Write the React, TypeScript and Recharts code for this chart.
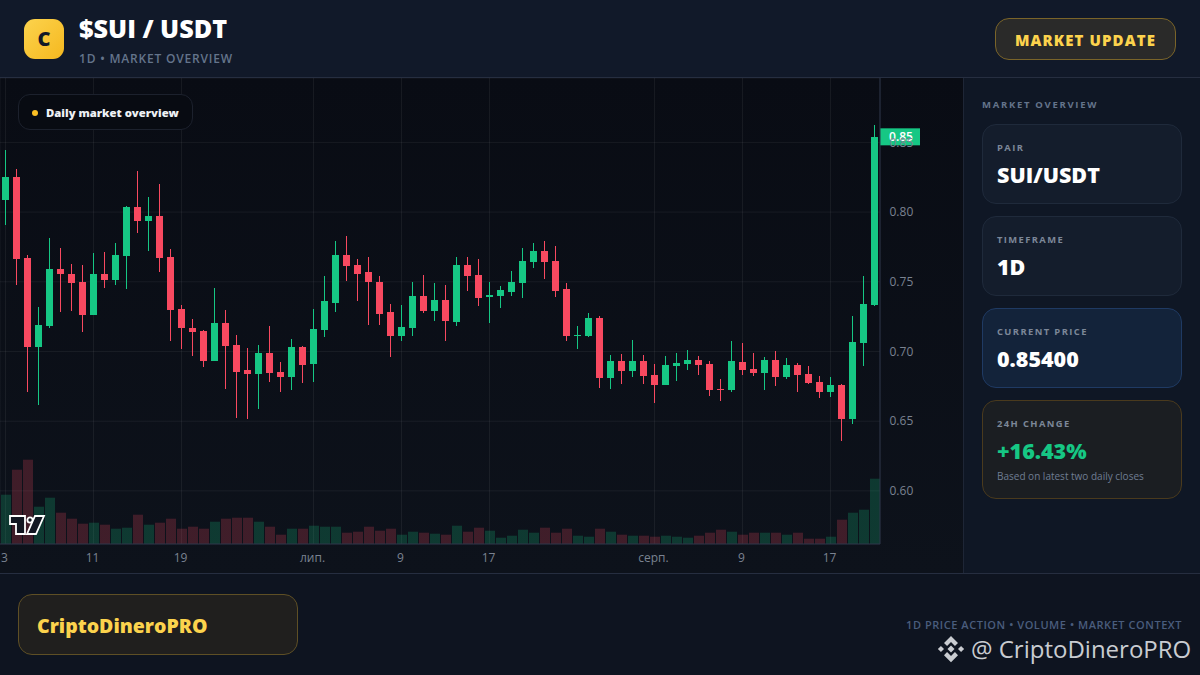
import { Bar, CartesianGrid, Cell, ComposedChart, ReferenceLine, XAxis, YAxis } from 'recharts';

const opens = [
  0.8086, 0.8251, 0.767, 0.7031, 0.7182, 0.7591, 0.7555, 0.7498, 0.7261, 0.7555,
  0.7512, 0.7684, 0.8036, 0.7935, 0.7971, 0.7677, 0.7304, 0.7167, 0.7146, 0.6931,
  0.7203, 0.7045, 0.6866, 0.6837, 0.6988, 0.6852, 0.6816, 0.7031, 0.691, 0.7152,
  0.7352, 0.7695, 0.7624, 0.7567, 0.7502, 0.7281, 0.711, 0.7167, 0.7395, 0.7288,
  0.7367, 0.7217, 0.7624, 0.7552, 0.7388, 0.7395, 0.7431, 0.7495, 0.7645, 0.7724,
  0.7652, 0.7445, 0.711, 0.711, 0.7239, 0.6809, 0.6931, 0.6859, 0.6931, 0.683,
  0.6758, 0.6895, 0.6909, 0.6938, 0.6909, 0.673, 0.6722, 0.6923, 0.6873, 0.6844,
  0.6938, 0.6816, 0.6902, 0.6837, 0.678, 0.6708, 0.6758, 0.6514, 0.706, 0.7333,
];
const highs = [
  0.8445, 0.8306, 0.7691, 0.7318, 0.7813, 0.7742, 0.7627, 0.762, 0.7706, 0.7713,
  0.7778, 0.8043, 0.8294, 0.8108, 0.8201, 0.7734, 0.7333, 0.7232, 0.7153, 0.7455,
  0.7297, 0.7117, 0.7024, 0.7045, 0.7182, 0.6923, 0.7089, 0.7038, 0.7302, 0.7538,
  0.7795, 0.7831, 0.7667, 0.7681, 0.7545, 0.7338, 0.7331, 0.7502, 0.7552, 0.7488,
  0.7474, 0.7681, 0.7681, 0.766, 0.7502, 0.7467, 0.7581, 0.7745, 0.7781, 0.7795,
  0.776, 0.7488, 0.7181, 0.7274, 0.7254, 0.6974, 0.6981, 0.7081, 0.6974, 0.6909,
  0.6967, 0.6988, 0.701, 0.6967, 0.6931, 0.6801, 0.7074, 0.706, 0.6988, 0.6959,
  0.7002, 0.6952, 0.6916, 0.6895, 0.6823, 0.6816, 0.6766, 0.7254, 0.7541, 0.8624,
];
const lows = [
  0.7907, 0.7476, 0.6708, 0.6615, 0.7167, 0.7282, 0.7289, 0.7139, 0.7261, 0.7455,
  0.7476, 0.7447, 0.7849, 0.772, 0.7569, 0.7074, 0.7017, 0.6967, 0.6888, 0.6931,
  0.673, 0.6522, 0.6514, 0.6586, 0.678, 0.6708, 0.6722, 0.6774, 0.6781, 0.7102,
  0.7288, 0.751, 0.7367, 0.7195, 0.7195, 0.696, 0.7074, 0.7117, 0.7281, 0.7217,
  0.7074, 0.7188, 0.7438, 0.7324, 0.721, 0.731, 0.7402, 0.7388, 0.7602, 0.7524,
  0.7395, 0.7074, 0.7017, 0.7102, 0.6737, 0.673, 0.6766, 0.6816, 0.6766, 0.6629,
  0.6758, 0.6787, 0.6866, 0.683, 0.6679, 0.6644, 0.6708, 0.683, 0.6823, 0.6722,
  0.6751, 0.6801, 0.6708, 0.6766, 0.6665, 0.6672, 0.6356, 0.6478, 0.6895, 0.7325,
];
const closes = [
  0.8251, 0.7663, 0.7031, 0.7189, 0.7591, 0.7555, 0.749, 0.7261, 0.7555, 0.7512,
  0.7691, 0.8036, 0.7935, 0.7971, 0.767, 0.7297, 0.7167, 0.7139, 0.6931, 0.7203,
  0.7038, 0.6852, 0.6837, 0.6988, 0.6844, 0.6816, 0.7031, 0.6902, 0.716, 0.736,
  0.7695, 0.7617, 0.756, 0.7495, 0.7274, 0.711, 0.7174, 0.7395, 0.7288, 0.7367,
  0.7217, 0.7624, 0.7545, 0.7388, 0.7402, 0.7438, 0.7502, 0.7652, 0.7724, 0.7645,
  0.7438, 0.711, 0.7117, 0.7238, 0.6809, 0.6931, 0.6859, 0.6931, 0.6823, 0.6758,
  0.6902, 0.6916, 0.6938, 0.6902, 0.6722, 0.6722, 0.6931, 0.6866, 0.6844, 0.6938,
  0.6816, 0.6902, 0.683, 0.6773, 0.6708, 0.6758, 0.6514, 0.7067, 0.734, 0.854,
];
// no scale in the picture, so these are relative bar heights
const volumes = [
  49.3, 74.3, 84.3, 37.3, 46.3, 31.3, 25.3, 20.3, 21.3, 19.3,
  15.3, 16.3, 29.3, 19.3, 21.3, 25.3, 15.3, 17.3, 15.3, 22.3,
  25.3, 26.3, 26.3, 22.3, 17.3, 9.3, 15.3, 15.3, 18.3, 17.3,
  17.3, 11.3, 12.3, 17.3, 13.3, 15.3, 9.3, 12.3, 11.3, 10.3,
  9.3, 18.3, 12.3, 16.3, 13.3, 6.3, 8.3, 14.3, 11.3, 16.3,
  11.3, 15.3, 8.3, 7.3, 15.3, 12.3, 9.3, 8.3, 8.3, 7.3,
  8.3, 7.3, 6.3, 8.3, 11.3, 14.3, 12.3, 9.3, 11.3, 11.3,
  11.3, 9.3, 11.3, 5.3, 5.3, 7.3, 24.3, 31.3, 34.3, 65.3,
];
const tickIndex = [0, 8, 16, 28, 36, 44, 59, 67, 75];
const tickLabels = ['3', '11', '19', 'лип.', '9', '17', 'серп.', '9', '17'];
const priceTicks = [0.6, 0.65, 0.7, 0.75, 0.8, 0.85];
const lastPrice = 0.854;

const rows = opens.map((open, i) => ({
  i,
  open,
  high: highs[i],
  low: lows[i],
  close: closes[i],
  volume: volumes[i],
  range: [lows[i], highs[i]],
}));

const GREEN = '#16C784';
const RED = '#F84960';
const FONT = '"Open Sans", "Noto Sans", sans-serif';
const GRID = 'rgba(255,255,255,0.06)';
const AXIS_LINE = '#2a3346';

function Candle(props: any) {
  const { x, y, width, height, payload } = props;
  const top = Math.min(y, y + height);
  const pxPerUnit = Math.abs(height) / (payload.high - payload.low);
  const bodyTop = top + (payload.high - Math.max(payload.open, payload.close)) * pxPerUnit;
  const bodyH = Math.abs(payload.close - payload.open) * pxPerUnit;
  const color = payload.close >= payload.open ? GREEN : RED;
  return (
    <g fill={color}>
      <rect x={Math.round(x + width / 2 - 0.5)} y={Math.round(top)} width={1} height={Math.max(1, Math.round(Math.abs(height)))} />
      <rect x={Math.round(x)} y={Math.round(bodyTop)} width={width} height={Math.max(1, Math.round(bodyH))} />
    </g>
  );
}

function PriceBadge(props: any) {
  const { viewBox } = props;
  const right = viewBox.x + viewBox.width;
  return (
    <g>
      <rect x={right} y={viewBox.y - 8.5} width={40} height={17} fill={GREEN} />
      <text x={right + 21} y={viewBox.y + 4} textAnchor="middle" fill="#fff" fontSize={12} fontWeight={600} fontFamily={FONT}>
        {lastPrice.toFixed(2)}
      </text>
    </g>
  );
}

function Box({ style, children }: { style: React.CSSProperties; children?: React.ReactNode }) {
  return <div style={{ position: 'absolute', boxSizing: 'border-box', ...style }}>{children}</div>;
}

function Txt({ x, y, right, size, weight, color, spacing, children }: any) {
  // y is the vertical centre of the line
  return (
    <div
      style={{
        position: 'absolute',
        left: x,
        right,
        top: y - 15,
        height: 30,
        lineHeight: '30px',
        fontSize: size,
        fontWeight: weight,
        color,
        letterSpacing: spacing,
        whiteSpace: 'nowrap',
      }}
    >
      {children}
    </div>
  );
}

function StatCard({ top, height, bg, border, label, value, valueColor = '#fff', note }: any) {
  return (
    <>
      <Box style={{ left: 982, top, width: 200, height, background: bg, border: `1px solid ${border}`, borderRadius: 14 }} />
      <Txt x={997} y={top + 23.5} size={9.4} weight={700} color="#7c8798" spacing={1.4}>{label}</Txt>
      <Txt x={997} y={top + 50.5} size={21.5} weight={800} color={valueColor}>{value}</Txt>
      {note ? <Txt x={997} y={top + 76} size={10} weight={400} color="#6f7d92">{note}</Txt> : null}
    </>
  );
}

export default function App() {
  return (
    <div style={{ position: 'absolute', left: 0, top: 0, width: 1200, height: 675, overflow: 'hidden', background: '#0e1420', fontFamily: FONT }}>
      {/* header */}
      <Box style={{ left: 0, top: 0, width: 1200, height: 78, background: '#111929', borderBottom: '1px solid #262e40' }} />
      <Box
        style={{
          left: 24, top: 19, width: 40, height: 40, borderRadius: 11,
          background: 'linear-gradient(135deg, #fcd34d, #f5b81f)',
          color: '#111827', fontSize: 20, fontWeight: 800, lineHeight: '40px', textAlign: 'center',
        }}
      >
        C
      </Box>
      <Txt x={79} y={28} size={25.2} weight={800} color="#fff">$SUI / USDT</Txt>
      <Txt x={79} y={59} size={12} weight={600} color="#64748b" spacing={0.8}>1D • MARKET OVERVIEW</Txt>
      <Box style={{ left: 995, top: 18, width: 181, height: 42, borderRadius: 14, background: '#2a2a29', border: '1px solid #7a6429' }} />
      <Txt x={1015} y={39.5} size={15} weight={800} color="#fcd34d" spacing={1.1}>MARKET UPDATE</Txt>

      {/* chart panel */}
      <Box style={{ left: 0, top: 78, width: 963, height: 495, background: 'linear-gradient(180deg, #090c14, #0d121b)' }} />
      <Box style={{ left: 0, top: 78 }}>
        <ComposedChart width={963} height={495} data={rows} margin={{ top: 0, right: 0, bottom: 0, left: 0 }}>
          <CartesianGrid xAxisId="price" yAxisId="price" stroke={GRID} />
          <XAxis
            xAxisId="price"
            dataKey="i"
            ticks={tickIndex}
            interval={0}
            height={29}
            stroke={AXIS_LINE}
            tickLine={false}
            dy={1}
            dx={-1}
            tick={{ fill: '#7a8291', fontSize: 12, fontFamily: FONT }}
            tickFormatter={(v: number) => tickLabels[tickIndex.indexOf(v)]}
          />
          <XAxis xAxisId="volume" dataKey="i" hide />
          <YAxis
            yAxisId="price"
            orientation="right"
            width={83}
            domain={[0.5619, 0.8962]}
            ticks={priceTicks}
            allowDataOverflow
            stroke={AXIS_LINE}
            tickLine={false}
            dx={1.5}
            tick={{ fill: '#7a8291', fontSize: 12, fontFamily: FONT }}
            tickFormatter={(v: number) => v.toFixed(2)}
          />
          <YAxis yAxisId="volume" hide domain={[0, 466]} />
          <Bar xAxisId="volume" yAxisId="volume" dataKey="volume" barSize={10} isAnimationActive={false}>
            {rows.map((r) => (
              <Cell key={r.i} fill={r.close >= r.open ? GREEN : RED} fillOpacity={0.22} />
            ))}
          </Bar>
          <Bar xAxisId="price" yAxisId="price" dataKey="range" barSize={7} shape={Candle} isAnimationActive={false} />
          <ReferenceLine xAxisId="price" yAxisId="price" y={lastPrice} stroke="none" label={<PriceBadge />} />
        </ComposedChart>
      </Box>
      <Box style={{ left: 18, top: 94, width: 175, height: 36, borderRadius: 12, background: '#080b12', border: '1px solid #1c212d' }} />
      <Box style={{ left: 32, top: 110, width: 6, height: 6, borderRadius: 3, background: '#fbbf24' }} />
      <Txt x={46} y={113} size={11.3} weight={800} color="#eef1f5">Daily market overview</Txt>
      <svg style={{ position: 'absolute', left: 9, top: 514 }} width={37} height={22} viewBox="-1 -1 37 22">
        <g fill="#131722" stroke="#fff" strokeWidth={1.8}>
          <path d="M0 1 H15 V19 H6 V9 H0 Z" />
          <circle cx={20} cy={5} r={2.6} />
          <path d="M25 1 H34 L26 19 H17 Z" />
        </g>
      </svg>

      {/* sidebar */}
      <Box style={{ left: 963, top: 78, width: 237, height: 495, background: '#0f1725', borderLeft: '1px solid #1e2636' }} />
      <Txt x={982} y={105} size={9.5} weight={700} color="#64748b" spacing={1.7}>MARKET OVERVIEW</Txt>
      <StatCard top={124} height={80} bg="#141d2c" border="#1f2a3b" label="PAIR" value="SUI/USDT" />
      <StatCard top={216} height={80} bg="#141d2c" border="#1f2a3b" label="TIMEFRAME" value="1D" />
      <StatCard top={308} height={80} bg="#13233a" border="#1f3a63" label="CURRENT PRICE" value="0.85400" />
      <StatCard top={400} height={99} bg="#1b1e22" border="#4a3a1d" label="24H CHANGE" value="+16.43%" valueColor={GREEN} note="Based on latest two daily closes" />

      {/* footer */}
      <Box style={{ left: 0, top: 573, width: 1200, height: 1, background: '#262e40' }} />
      <Box style={{ left: 18, top: 594, width: 280, height: 61, borderRadius: 14, background: '#201f1e', border: '1px solid #5e4f25' }} />
      <Txt x={37} y={625.5} size={19.5} weight={800} color="#fcd34d">CriptoDineroPRO</Txt>
      <Txt right={18} y={625} size={11} weight={600} color="#4a5d7d" spacing={0.55}>1D PRICE ACTION • VOLUME • MARKET CONTEXT</Txt>
      <svg style={{ position: 'absolute', left: 937, top: 635 }} width={28} height={28} viewBox="0 0 32 32" fill="#c9ccd1">
        <path d="M16 1 L24 9 L20.5 12.5 L16 8 L11.5 12.5 L8 9 Z" />
        <path d="M16 31 L8 23 L11.5 19.5 L16 24 L20.5 19.5 L24 23 Z" />
        <path d="M1 16 L4.5 12.5 L8 16 L4.5 19.5 Z" />
        <path d="M31 16 L27.5 12.5 L24 16 L27.5 19.5 Z" />
        <path d="M16 12 L20 16 L16 20 L12 16 Z" />
      </svg>
      <Txt x={971} y={649} size={24} weight={400} color="#c9ccd1">@ CriptoDineroPRO</Txt>
    </div>
  );
}
